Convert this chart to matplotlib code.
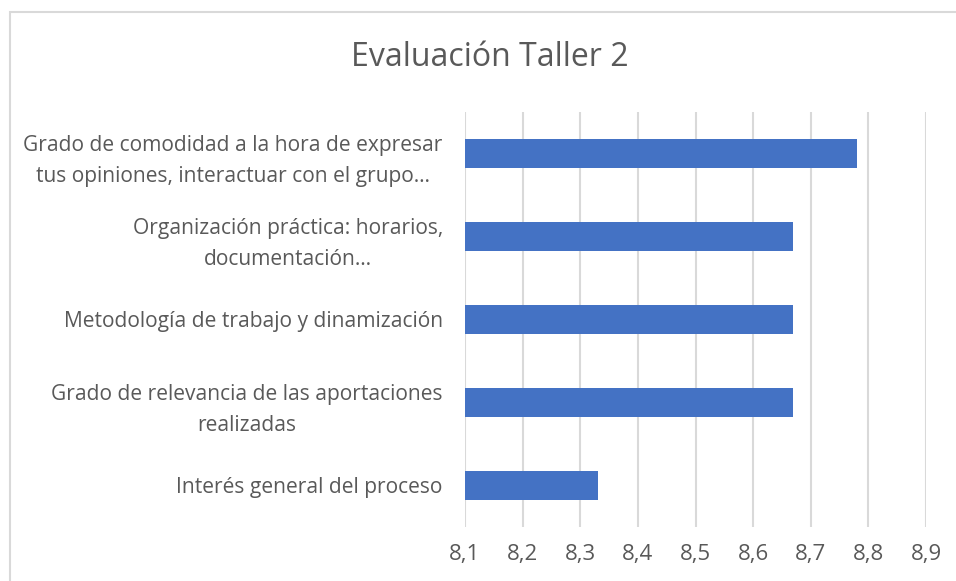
import matplotlib.pyplot as plt
from matplotlib.patches import Rectangle
from matplotlib.ticker import MultipleLocator, FuncFormatter

# Data (top to bottom as in the chart)
categories = [
    "Grado de comodidad a la hora de expresar\ntus opiniones, interactuar con el grupo…",
    "Organización práctica: horarios,\ndocumentación…",
    "Metodología de trabajo y dinamización",
    "Grado de relevancia de las aportaciones\nrealizadas",
    "Interés general del proceso",
]
scores = [8.78, 8.67, 8.67, 8.67, 8.33]
x_min, x_max = 8.1, 8.9

text_color = "#595959"
bar_color = "#4472C4"
grid_color = "#D9D9D9"

plt.rcParams['font.family'] = ['Open Sans', 'DejaVu Sans']

fig = plt.figure(figsize=(9.56, 5.81), dpi=100)
ax = fig.add_axes([465 / 956, 1 - 527 / 581, (926 - 465) / 956, (527 - 112) / 581])

# Chart border
fig.patches.append(Rectangle((9.5 / 956, -0.05), 1.1, 1.05 - 12.5 / 581,
                             transform=fig.transFigure, fill=False,
                             edgecolor=grid_color, linewidth=1.5))

# Bars
ypos = list(range(len(categories)))
ax.barh(ypos, [s - x_min for s in scores], left=x_min, height=0.35,
        color=bar_color, zorder=3)

ax.set_xlim(x_min, x_max)
ax.set_ylim(len(categories) - 0.5, -0.5)
ax.set_yticks(ypos)
ax.set_yticklabels(categories, multialignment='center', linespacing=1.65)
ax.xaxis.set_major_locator(MultipleLocator(0.1))
ax.xaxis.set_major_formatter(FuncFormatter(lambda v, p: "{:.1f}".format(v).replace('.', ',')))

# Gridlines and axis styling
ax.grid(axis='x', color=grid_color, linewidth=1.5, zorder=0)
for side in ['top', 'right', 'bottom', 'left']:
    ax.spines[side].set_visible(False)
ax.tick_params(axis='y', length=0, colors=text_color, labelsize=15.1, pad=16)
ax.tick_params(axis='x', length=0, colors=text_color, labelsize=16, pad=12)

# Title
fig.text(490 / 956, 1 - 57 / 581, "Evaluación Taller 2", ha='center', va='center',
         fontsize=23, color=text_color)

fig.savefig("out.png", dpi=100)
